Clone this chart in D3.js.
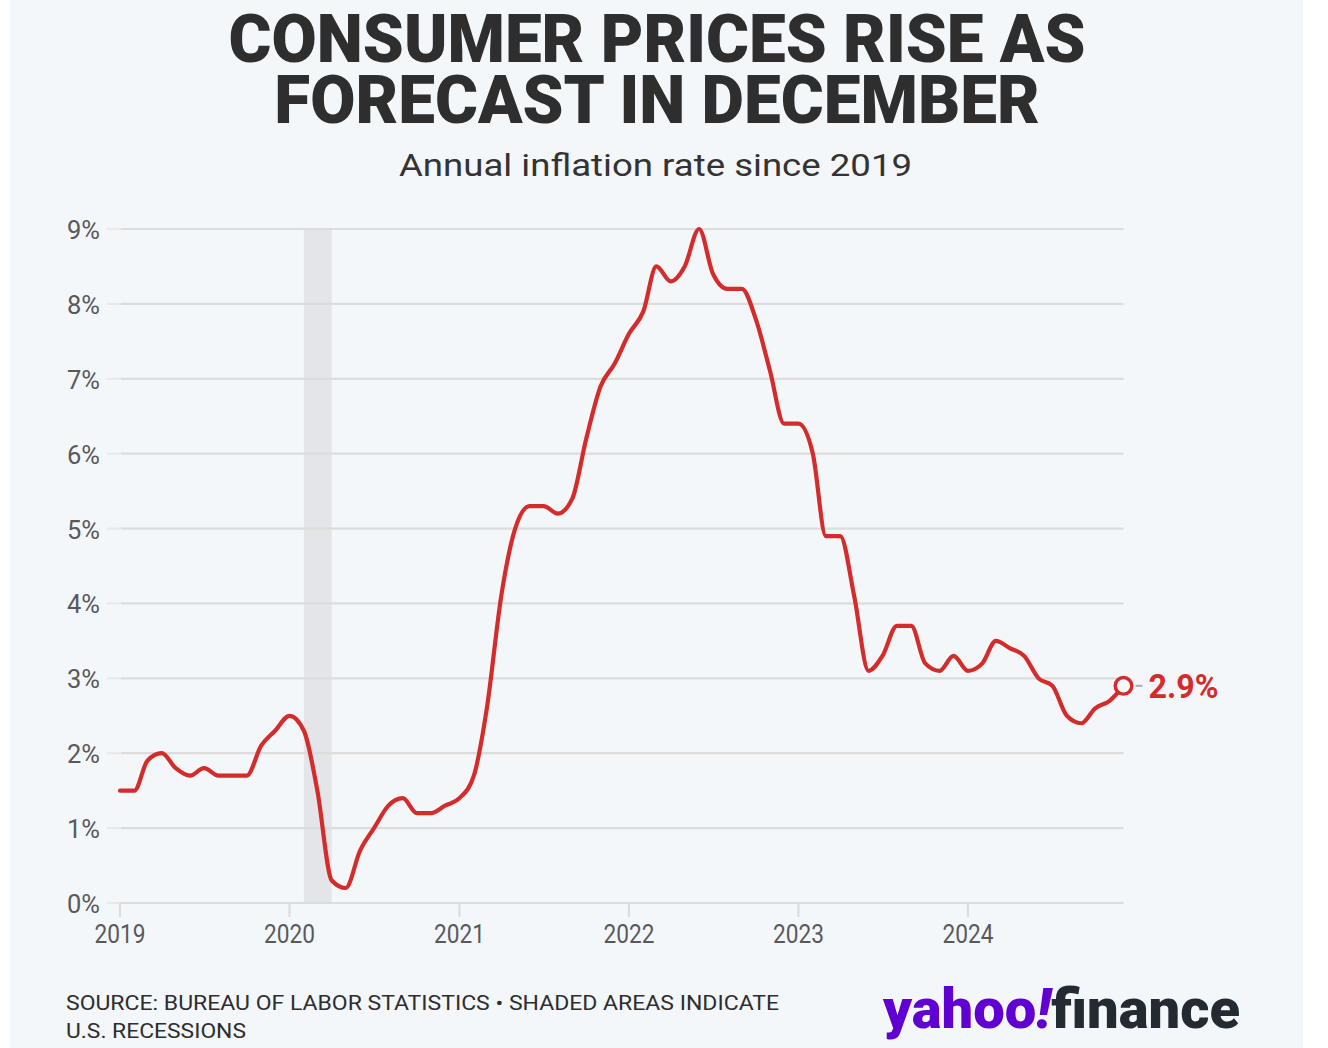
<!DOCTYPE html>
<html><head><meta charset="utf-8">
<script src="https://cdn.jsdelivr.net/npm/d3@7"></script>
<style>
html,body{margin:0;padding:0;background:#ffffff;}
body{position:relative;width:1328px;height:1048px;overflow:hidden;}
svg{display:block;position:absolute;left:0;top:0;}
#title{position:absolute;left:-7.5px;width:1328px;text-align:center;white-space:nowrap;
  font-family:Roboto,'Liberation Sans',sans-serif;font-weight:900;font-size:66px;line-height:61px;
  color:#2e2e2e;transform-origin:50% 0;}
</style></head>
<body>
<svg id="chart" width="1328" height="1048"></svg>
<script>
// ---------- data ----------
const startMonth = "2019-01";
const endMonth = "2024-12";
const inflation = [
  1.5,1.5,1.9,2.0,1.8,1.7,1.8,1.7,1.7,1.7,2.1,2.3,   // 2019
  2.5,2.3,1.5,0.3,0.2,0.7,1.0,1.3,1.4,1.2,1.2,1.3,   // 2020
  1.4,1.7,2.6,4.1,5.0,5.3,5.3,5.2,5.4,6.2,6.9,7.2,   // 2021
  7.6,7.9,8.5,8.3,8.5,9.0,8.4,8.2,8.2,7.8,7.1,6.4,   // 2022
  6.4,6.0,4.9,4.9,4.1,3.1,3.3,3.7,3.7,3.2,3.1,3.3,   // 2023
  3.1,3.2,3.5,3.4,3.3,3.0,2.9,2.5,2.4,2.6,2.7,2.9    // 2024
];
const yTicks = [0,1,2,3,4,5,6,7,8,9];
const yearTicks = ["2019","2020","2021","2022","2023","2024"];
const recessions = [["2020-02","2020-04"]];
const titleLines = ["CONSUMER PRICES RISE AS","FORECAST IN DECEMBER"];
const subtitle = "Annual inflation rate since 2019";
const sourceLines = ["SOURCE: BUREAU OF LABOR STATISTICS \u2022 SHADED AREAS INDICATE","U.S. RECESSIONS"];

// ---------- setup ----------
const parseM = d3.timeParse("%Y-%m");
const parseY = d3.timeParse("%Y");
const months = d3.timeMonth.range(parseM(startMonth), d3.timeMonth.offset(parseM(endMonth),1));
const data = months.map((d,i)=>({date:d, value:inflation[i]}));

const RED = "#d42b2b";
const BG = "#f4f7fa";
const svg = d3.select("#chart");

svg.append("rect").attr("x",10).attr("y",0).attr("width",1293).attr("height",1048).attr("fill",BG);

const x = d3.scaleTime().domain([parseM(startMonth), parseM(endMonth)]).range([120,1123.5]);
const y = d3.scaleLinear().domain([0,9]).range([903,229]);

// title: one HTML block, two lines, condensed horizontally
const titleDiv = d3.select("body").append("div").attr("id","title");
titleDiv.html(titleLines.join("<br>"));
const meas = svg.append("text").attr("font-family","Roboto, 'Liberation Sans', sans-serif")
  .attr("font-weight",900).attr("font-size",66).text(titleLines[0]);
const natW = meas.node().getComputedTextLength();
meas.remove();
const titleSx = 857 / natW;
// baseline of first line at y=62 : half-leading + ascent
const tAsc = 0.9277*66, tDesc = 0.2441*66;
const titleTop = 62 - ((61 - (tAsc+tDesc))/2 + tAsc);
titleDiv.style("top", titleTop+"px").style("transform", `scaleX(${titleSx})`);

svg.append("text").attr("x",655.5).attr("y",176)
  .attr("text-anchor","middle")
  .attr("font-family","Roboto, sans-serif").attr("font-size",32).attr("fill","#333")
  .attr("textLength",513).attr("lengthAdjust","spacingAndGlyphs")
  .text(subtitle);

// recession bands
svg.append("g").selectAll("rect").data(recessions).join("rect")
  .attr("x",d=>x(parseM(d[0]))).attr("width",d=>x(parseM(d[1]))-x(parseM(d[0])))
  .attr("y",y(9)).attr("height",y(0)-y(9)).attr("fill","#e4e5e8");

// grid
const grid = svg.append("g");
grid.selectAll("line.g").data(yTicks).join("line").attr("class","g")
  .attr("x1",121).attr("x2",1123.5).attr("y1",d=>y(d)).attr("y2",d=>y(d))
  .attr("stroke","#dcdcdc").attr("stroke-width",2.2);
grid.selectAll("line.t").data(yTicks).join("line").attr("class","t")
  .attr("x1",107).attr("x2",121).attr("y1",d=>y(d)).attr("y2",d=>y(d))
  .attr("stroke","#e8e9ea").attr("stroke-width",2.2);
grid.selectAll("text").data(yTicks).join("text")
  .attr("x",100).attr("y",d=>y(d)+10).attr("text-anchor","end")
  .attr("font-family","Roboto, sans-serif").attr("font-size",26).attr("fill","#58595b")
  .attr("textLength",33).attr("lengthAdjust","spacingAndGlyphs")
  .text(d=>d+"%");

// x axis
const xa = svg.append("g");
xa.selectAll("line").data(yearTicks).join("line")
  .attr("x1",d=>x(parseY(d))).attr("x2",d=>x(parseY(d)))
  .attr("y1",y(0)).attr("y2",y(0)+14).attr("stroke","#dcdcdc").attr("stroke-width",2.2);
xa.selectAll("text").data(yearTicks).join("text")
  .attr("x",d=>x(parseY(d))).attr("y",943).attr("text-anchor","middle")
  .attr("font-family","Roboto, sans-serif").attr("font-size",26).attr("fill","#58595b")
  .attr("textLength",51).attr("lengthAdjust","spacingAndGlyphs")
  .text(d=>d);

// line
const line = d3.line().x(d=>x(d.date)).y(d=>y(d.value)).curve(d3.curveMonotoneX);
svg.append("path").datum(data).attr("d",line)
  .attr("fill","none").attr("stroke",RED).attr("stroke-width",4.2)
  .attr("stroke-linejoin","round").attr("stroke-linecap","round");

// end marker
const last = data[data.length-1];
svg.append("line").attr("x1",x(last.date)+12).attr("x2",x(last.date)+19)
  .attr("y1",y(last.value)).attr("y2",y(last.value)).attr("stroke","#aaaaaa").attr("stroke-width",2);
svg.append("circle").attr("cx",x(last.date)).attr("cy",y(last.value)).attr("r",8.3)
  .attr("fill",BG).attr("stroke",RED).attr("stroke-width",3.4);
svg.append("text").attr("x",x(last.date)+25).attr("y",y(last.value)+12)
  .attr("font-family","Roboto, sans-serif").attr("font-weight",700).attr("font-size",33).attr("fill",RED)
  .attr("textLength",70).attr("lengthAdjust","spacingAndGlyphs")
  .text(d3.format(".1f")(last.value)+"%");

// footer
const sW = [713,180];
sourceLines.forEach((t,i)=>{
  svg.append("text").attr("x",66).attr("y",1010+i*28)
    .attr("font-family","Roboto, sans-serif").attr("font-size",21).attr("fill","#2e2e2e")
    .attr("textLength",sW[i]).attr("lengthAdjust","spacingAndGlyphs")
    .text(t);
});

// logo
const logo = svg.append("text").attr("x",883).attr("y",1028)
  .attr("font-family","Roboto, sans-serif").attr("font-weight",900).attr("font-size",56)
  .attr("textLength",357).attr("lengthAdjust","spacingAndGlyphs");
logo.append("tspan").attr("fill","#6001d2").text("yahoo");
logo.append("tspan").attr("fill","#6001d2").attr("font-style","italic").text("!");
logo.append("tspan").attr("fill","#232a31").text("finance");
</script>
</body></html>
